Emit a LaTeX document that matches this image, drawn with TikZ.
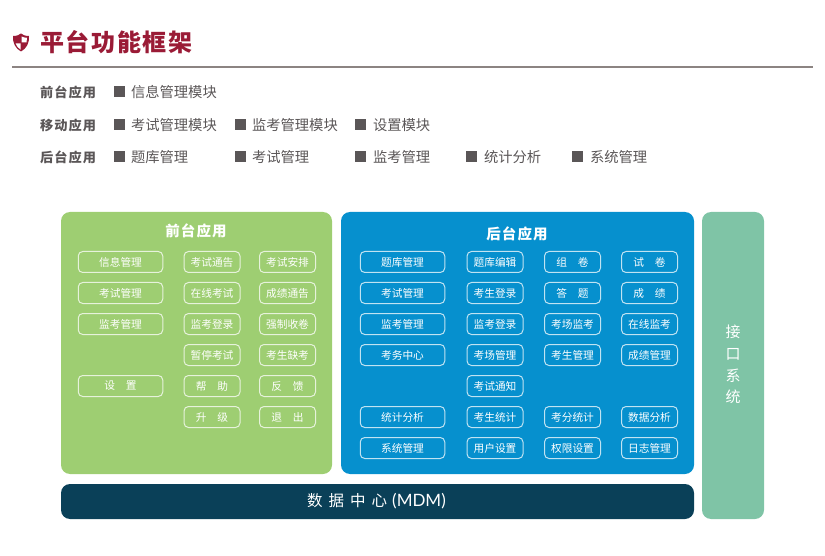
\documentclass[tikz,border=0pt]{standalone}
\usepackage{fontspec}
\setmainfont{Noto Sans CJK SC}
\newfontfamily\labelfont[LetterSpace=8]{Noto Sans CJK SC}
\newfontfamily\latinfont{Lato}
\usetikzlibrary{calc}

\definecolor{titlered}{HTML}{9A1B36}
\definecolor{rulegray}{HTML}{8C8482}
\definecolor{textgray}{HTML}{5A5657}
\definecolor{panelgreen}{HTML}{9ECE72}
\definecolor{panelblue}{HTML}{0690CE}
\definecolor{panelteal}{HTML}{7FC4A6}
\definecolor{paneldark}{HTML}{0A4058}

\begin{document}
\begin{tikzpicture}[
        x=1pt, y=-1pt,
        every node/.style={inner sep=0pt, outer sep=0pt},
        headlabel/.style={anchor=west, text=textgray, font=\fontsize{13.2}{15}\selectfont\labelfont\bfseries},
        itemlabel/.style={anchor=west, text=textgray, font=\fontsize{14.3}{16}\selectfont},
        bullet/.style={anchor=west, fill=textgray, minimum width=11pt, minimum height=11pt},
        panel/.style={rectangle, rounded corners=9pt, anchor=north west},
        paneltitle/.style={text=white, font=\fontsize{14.5}{16}\selectfont\labelfont\bfseries},
        modbox/.style={rectangle, draw=white, draw opacity=0.75, line width=1pt, rounded corners=4.5pt, text=white, minimum height=21pt, font=\fontsize{10.7}{12}\selectfont},
        widebox/.style={modbox, minimum width=84.5pt},
        smallbox/.style={modbox, minimum width=56pt},
    ]
    \path[use as bounding box] (0,0) rectangle (825,556);

    % title
    \fill[titlered] (13,36) .. controls (17,36) and (19,35) .. (21,33.5) .. controls (23,35) and (25,36) .. (29,36) .. controls (29.5,43) and (26.5,48.5) .. (21,51.5) .. controls (15.5,48.5) and (12.5,43) .. (13,36) -- cycle;
    \fill[white] (21.5,36.5) .. controls (23,37.3) and (25,37.7) .. (27,37.8) .. controls (27,39.5) and (26.8,41) .. (26.5,42.3) -- (21.5,42.3) -- cycle;
    \fill[white] (20.5,43.3) -- (15.6,43.3) .. controls (16.4,45.8) and (18,48) .. (20.5,49.6) -- cycle;
    \node[anchor=west, text=titlered, font=\fontsize{24}{26}\selectfont\bfseries\addfontfeature{LetterSpace=7}](title) at (40,42){平台功能框架};
    \draw[rulegray, line width=1.2pt] (12,67) -- (813,67);

    % front row
    \node[headlabel](front_head) at (40,92){前台应用};
    \node[bullet](front_sq) at (114,92){};
    \node[itemlabel](front_item) at (131,92){信息管理模块};

    % mobile row
    \node[headlabel](mobile_head) at (40,125){移动应用};
    \node[bullet](mobile_sq_a) at (114,125){};
    \node[itemlabel](mobile_item_a) at (131,125){考试管理模块};
    \node[bullet](mobile_sq_b) at (235,125){};
    \node[itemlabel](mobile_item_b) at (252,125){监考管理模块};
    \node[bullet](mobile_sq_c) at (355,125){};
    \node[itemlabel](mobile_item_c) at (373,125){设置模块};

    % back row
    \node[headlabel](back_head) at (40,157){后台应用};
    \node[bullet](back_sq_a) at (114,157){};
    \node[itemlabel](back_item_a) at (131,157){题库管理};
    \node[bullet](back_sq_b) at (235,157){};
    \node[itemlabel](back_item_b) at (252,157){考试管理};
    \node[bullet](back_sq_c) at (355,157){};
    \node[itemlabel](back_item_c) at (373,157){监考管理};
    \node[bullet](back_sq_d) at (466,157){};
    \node[itemlabel](back_item_d) at (484,157){统计分析};
    \node[bullet](back_sq_e) at (572,157){};
    \node[itemlabel](back_item_e) at (590,157){系统管理};

    % panels
    \node[panel, fill=panelgreen, minimum width=271pt, minimum height=262pt](front_panel) at (61,212){};
    \node[panel, fill=panelblue, minimum width=353pt, minimum height=262pt](back_panel) at (341,212){};
    \node[panel, fill=panelteal, minimum width=62pt, minimum height=307pt](api_panel) at (702,212){};
    \node[panel, fill=paneldark, minimum width=633pt, minimum height=35pt](data_panel) at (61,484){};

    \node[paneltitle](front_title) at (196,231){前台应用};
    \node[paneltitle](back_title) at (517,234){后台应用};
    \node[text=white, align=center, font=\fontsize{15}{21.7}\selectfont](api_title) at (733,364.5){接\\口\\系\\统};
    \node[text=white, font=\fontsize{15.5}{18}\selectfont](data_title) at (376.5,501){数\hspace{6pt}据\hspace{6pt}中\hspace{6pt}心\hspace{5pt}{\fontsize{17}{18}\selectfont\latinfont (MDM)}};

    % front panel modules
    \node[widebox](f_info) at (120.5,262){信息管理};
    \node[widebox](f_exam) at (120.5,293){考试管理};
    \node[widebox](f_proc) at (120.5,324){监考管理};
    \node[widebox](f_set) at (120.5,386){设\hspace{1em}置};
    \node[smallbox](f_notice) at (212,262){考试通告};
    \node[smallbox](f_online) at (212,293){在线考试};
    \node[smallbox](f_login) at (212,324){监考登录};
    \node[smallbox](f_pause) at (212,355){暂停考试};
    \node[smallbox](f_help) at (212,386){帮\hspace{1em}助};
    \node[smallbox](f_up) at (212,417){升\hspace{1em}级};
    \node[smallbox](f_plan) at (287.5,262){考试安排};
    \node[smallbox](f_score) at (287.5,293){成绩通告};
    \node[smallbox](f_force) at (287.5,324){强制收卷};
    \node[smallbox](f_absent) at (287.5,355){考生缺考};
    \node[smallbox](f_back) at (287.5,386){反\hspace{1em}馈};
    \node[smallbox](f_quit) at (287.5,417){退\hspace{1em}出};

    % back panel modules
    \node[widebox](b_bank) at (402.5,262){题库管理};
    \node[widebox](b_exam) at (402.5,293){考试管理};
    \node[widebox](b_proc) at (402.5,324){监考管理};
    \node[widebox](b_affair) at (402.5,355){考务中心};
    \node[widebox](b_stat) at (402.5,417){统计分析};
    \node[widebox](b_sys) at (402.5,448){系统管理};
    \node[smallbox](b_edit) at (495,262){题库编辑};
    \node[smallbox](b_stu) at (495,293){考生登录};
    \node[smallbox](b_login) at (495,324){监考登录};
    \node[smallbox](b_room) at (495,355){考场管理};
    \node[smallbox](b_note) at (495,386){考试通知};
    \node[smallbox](b_stustat) at (495,417){考生统计};
    \node[smallbox](b_user) at (495,448){用户设置};
    \node[smallbox](b_group) at (572.5,262){组\hspace{1em}卷};
    \node[smallbox](b_answer) at (572.5,293){答\hspace{1em}题};
    \node[smallbox](b_hall) at (572.5,324){考场监考};
    \node[smallbox](b_stumgr) at (572.5,355){考生管理};
    \node[smallbox](b_mark) at (572.5,417){考分统计};
    \node[smallbox](b_right) at (572.5,448){权限设置};
    \node[smallbox](b_paper) at (649.5,262){试\hspace{1em}卷};
    \node[smallbox](b_result) at (649.5,293){成\hspace{1em}绩};
    \node[smallbox](b_live) at (649.5,324){在线监考};
    \node[smallbox](b_resmgr) at (649.5,355){成绩管理};
    \node[smallbox](b_data) at (649.5,417){数据分析};
    \node[smallbox](b_log) at (649.5,448){日志管理};
\end{tikzpicture}
\end{document}
